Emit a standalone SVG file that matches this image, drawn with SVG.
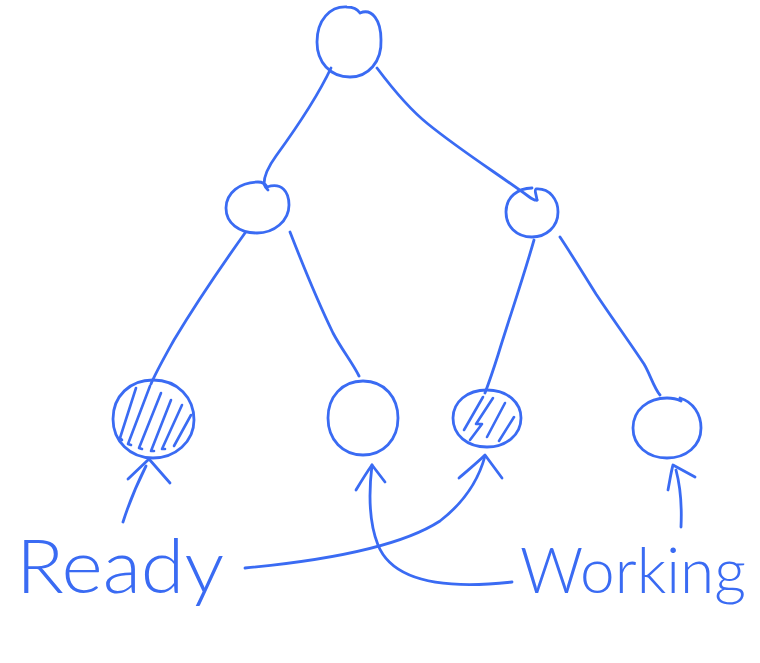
<svg xmlns="http://www.w3.org/2000/svg" width="760" height="663" viewBox="0 0 760 663">
  <style>
    .pen { fill: none; stroke: #3a6bf3; stroke-width: 2.8; stroke-linecap: round; stroke-linejoin: round; }
    .hatch { fill: none; stroke: #3a6bf3; stroke-width: 2.6; stroke-linecap: round; stroke-linejoin: round; }
    .label { fill: #3a6bf3; font-family: "Lato", "Open Sans", "Liberation Sans", sans-serif; font-weight: 300; }
  </style>
  <rect width="760" height="663" fill="#ffffff"/>

  <!-- tree edges and pointer arrows -->
  <g id="connectors">
    <path class="pen" d="M331,68 C316,100 292,134 276,156 C268,167 264,176 264,184 C265,187 267,189 268,190"/>
    <path class="pen" d="M377,68 C392,88 408,108 428,124 C460,150 495,172 528,196 C532,199 535,201 537,200"/>
    <path class="pen" d="M245,233 C220,268 195,305 174,340 C164,358 156,372 151,384"/>
    <path class="pen" d="M290,232 C304,268 318,302 333,333 C342,350 352,362 359,376"/>
    <path class="pen" d="M534,240 C522,282 508,322 498,355 C492,374 488,385 485,393"/>
    <path class="pen" d="M560,237 C572,255 584,275 596,294 C612,318 628,340 644,364 C650,374 654,388 660,395"/>
    <!-- Ready -> leaf 1 -->
    <path class="pen" d="M123,522 C130,500 138,482 146,466"/>
    <path class="pen" d="M128,479 L149,459 L170,483"/>
    <!-- Ready -> leaf 3 -->
    <path class="pen" d="M245,568 C320,561 400,547 440,521 C462,504 478,482 485,456"/>
    <path class="pen" d="M459,478 C468,470 478,462 485,455 L502,478"/>
    <!-- Working -> leaf 2 -->
    <path class="pen" d="M512,582 C440,590 392,580 378,545 C368,520 369,490 372,465"/>
    <path class="pen" d="M356,490 C362,480 367,472 372,465 L385,482"/>
    <!-- Working -> leaf 4 -->
    <path class="pen" d="M681,527 C682,505 680,485 676,470"/>
    <path class="pen" d="M668,490 C670,480 671,472 673,465 L695,477"/>
  </g>

  <g id="root">
    <path class="pen" d="M360,13 C372,8 381,20 381,40 C382,62 368,77 350,77 C330,77 317,62 317,42 C317,20 330,6 347,7 C354,7 358,10 360,13"/>
  </g>

  <g id="mid-left">
    <path class="pen" d="M267,187 C282,182 289,192 289,205 C289,221 274,233 257,233 C239,233 226,223 226,208 C226,193 240,182 258,182 C262,182 265,183 267,187"/>
  </g>

  <g id="mid-right">
    <path class="pen" d="M537,200 C536,193 534,190 536,189 C550,188 558,200 558,212 C558,227 546,237 532,237 C516,237 506,226 506,212 C506,197 518,188 532,188"/>
  </g>

  <g id="leaf-1">
    <path class="pen" d="M153,380 C178,380 194,398 194,420 C194,442 175,458 153,458 C130,458 113,441 113,419 C113,396 130,380 153,380"/>
    <path class="hatch" d="M136,388 L120,438 L122,440"/>
    <path class="hatch" d="M150,386 L128,444 L131,445"/>
    <path class="hatch" d="M161,393 L139,448 L142,449"/>
    <path class="hatch" d="M171,400 L151,451 L154,451"/>
    <path class="hatch" d="M182,405 L162,449 L165,449"/>
    <path class="hatch" d="M191,415 L174,446"/>
  </g>

  <g id="leaf-2">
    <path class="pen" d="M363,381 C385,381 398,398 398,418 C398,440 383,455 363,455 C343,455 328,440 328,418 C328,397 342,381 363,381"/>
  </g>

  <g id="leaf-3">
    <path class="pen" d="M487,390 C508,390 521,403 521,418 C521,435 506,447 487,447 C467,447 453,435 453,418 C453,402 467,390 487,390"/>
    <path class="hatch" d="M483,397 L464,430"/>
    <path class="hatch" d="M493,398 L476,424 L482,424 L470,440"/>
    <path class="hatch" d="M505,403 L487,437"/>
    <path class="hatch" d="M514,417 L499,441"/>
  </g>

  <g id="leaf-4">
    <path class="pen" d="M680,398 C693,402 701,414 701,428 C701,446 686,458 667,458 C648,458 633,446 633,428 C633,410 648,398 667,398 C672,398 677,399 681,401"/>
  </g>

  <text class="label" x="16" y="593" font-size="74" textLength="208" lengthAdjust="spacingAndGlyphs">Ready</text>
  <text class="label" x="520" y="593" font-size="64" textLength="226" lengthAdjust="spacingAndGlyphs">Working</text>
</svg>
